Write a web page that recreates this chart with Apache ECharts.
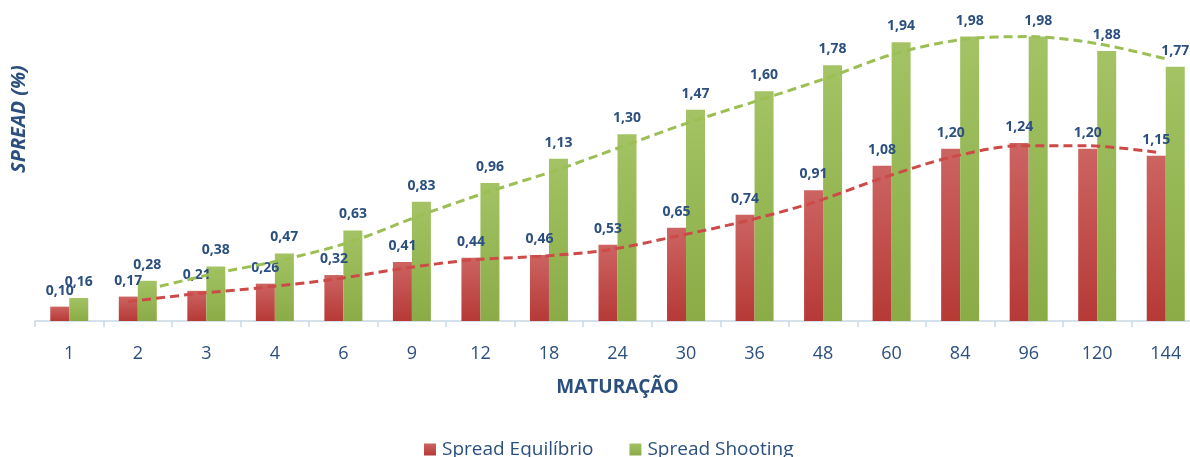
<!DOCTYPE html>
<html>
<head>
<meta charset="utf-8">
<script src="https://cdn.jsdelivr.net/npm/echarts@6/dist/echarts.min.js"></script>
<style>
  html, body { margin: 0; padding: 0; background: #ffffff; overflow: hidden; }
  /* the chart is slightly wider than the page: the last category runs off the right edge */
  #chart { width: 1200px; height: 457px; }
</style>
</head>
<body>
<div id="chart"></div>
<script>
// Maturities (months)
const maturities = ['1', '2', '3', '4', '6', '9', '12', '18', '24', '30', '36', '48', '60', '84', '96', '120', '144'];

// Spread values (%)
const spreadEquilibrio = [0.10, 0.17, 0.21, 0.26, 0.32, 0.41, 0.44, 0.46, 0.53, 0.65, 0.74, 0.91, 1.08, 1.20, 1.24, 1.20, 1.15];
const spreadShooting   = [0.16, 0.28, 0.38, 0.47, 0.63, 0.83, 0.96, 1.13, 1.30, 1.47, 1.60, 1.78, 1.94, 1.98, 1.98, 1.88, 1.77];

// Dashed trend lines (2-period moving average)
const trendEquilibrio = [null, 0.135, 0.19, 0.235, 0.29, 0.365, 0.425, 0.45, 0.495, 0.59, 0.695, 0.825, 0.995, 1.14, 1.22, 1.22, 1.175];
const trendShooting   = [null, 0.22, 0.33, 0.425, 0.55, 0.73, 0.895, 1.045, 1.215, 1.385, 1.535, 1.69, 1.86, 1.96, 1.98, 1.93, 1.825];

const seriesNames = ['Spread Equilíbrio', 'Spread Shooting'];

const TEXT = '#2b4f7e';
const AXIS = '#c8d6e8';
const FONT = '"Open Sans", "Liberation Sans", sans-serif';
const Y_MAX = 2.2;

const fmt = p => p.value.toFixed(2).replace('.', ',');

const grad = (top, bottom) => new echarts.graphic.LinearGradient(0, 0, 0, 1, [
  { offset: 0, color: top },
  { offset: 1, color: bottom }
]);

const plot = { top: 5, bottom: 136 };
const PLOT_LEFT = 35;
const PLOT_RIGHT = 0;
const BAR_W = 19;

const chart = echarts.init(document.getElementById('chart'), null, { renderer: 'canvas' });

const hiddenX = idx => ({
  type: 'category', gridIndex: idx, data: maturities, show: false, boundaryGap: true
});
const hiddenY = idx => ({
  type: 'value', gridIndex: idx, min: 0, max: Y_MAX, show: false, splitLine: { show: false }
});

chart.setOption({
  animation: false,
  backgroundColor: '#ffffff',
  textStyle: { fontFamily: FONT },
  grid: [
    // bars
    { left: PLOT_LEFT, right: PLOT_RIGHT, top: plot.top, bottom: plot.bottom },
    // trend line through the red bars' centres
    { left: PLOT_LEFT - BAR_W / 2, right: PLOT_RIGHT + BAR_W / 2, top: plot.top, bottom: plot.bottom },
    // trend line through the green bars' centres
    { left: PLOT_LEFT + BAR_W / 2, right: PLOT_RIGHT - BAR_W / 2, top: plot.top, bottom: plot.bottom }
  ],
  legend: {
    data: seriesNames,
    left: 419,
    top: 435,
    itemWidth: 12,
    itemHeight: 12,
    itemGap: 36,
    icon: 'rect',
    textStyle: { color: TEXT, fontSize: 19, fontFamily: FONT, padding: [0, 0, 0, 1] }
  },
  xAxis: [
    {
      type: 'category',
      gridIndex: 0,
      data: maturities,
      boundaryGap: true,
      axisLine: { show: true, lineStyle: { color: AXIS, width: 1.5 } },
      axisTick: { show: true, length: 6, lineStyle: { color: AXIS, width: 1.5 } },
      axisLabel: { color: TEXT, fontSize: 18, margin: 24, fontFamily: FONT },
      name: 'MATURAÇÃO',
      nameLocation: 'middle',
      nameGap: 57,
      nameTextStyle: { color: TEXT, fontSize: 19, fontWeight: 'bold', fontFamily: FONT }
    },
    hiddenX(1),
    hiddenX(2)
  ],
  yAxis: [
    {
      type: 'value',
      gridIndex: 0,
      min: 0,
      max: Y_MAX,
      axisLine: { show: false },
      axisTick: { show: false },
      axisLabel: { show: false },
      splitLine: { show: false },
      name: 'SPREAD (%)',
      nameLocation: 'middle',
      nameRotate: 90,
      nameGap: 6,
      nameTextStyle: {
        color: TEXT, fontSize: 20, fontWeight: 'bold', fontStyle: 'italic',
        fontFamily: FONT, padding: [0, 0, 0, 88]
      }
    },
    hiddenY(1),
    hiddenY(2)
  ],
  series: [
    {
      name: seriesNames[0],
      type: 'bar',
      xAxisIndex: 0,
      yAxisIndex: 0,
      data: spreadEquilibrio,
      barWidth: BAR_W,
      barGap: '0%',
      itemStyle: { color: grad('#cc6462', '#b63936') },
      label: {
        show: true, position: 'top', distance: 9, formatter: fmt,
        color: TEXT, fontSize: 14, fontWeight: 'bold', fontFamily: FONT
      },
      z: 2
    },
    {
      name: seriesNames[1],
      type: 'bar',
      xAxisIndex: 0,
      yAxisIndex: 0,
      data: spreadShooting,
      barWidth: BAR_W,
      barGap: '0%',
      itemStyle: { color: grad('#a3c364', '#8aab46') },
      label: {
        show: true, position: 'top', distance: 9, formatter: fmt,
        color: TEXT, fontSize: 14, fontWeight: 'bold', fontFamily: FONT
      },
      z: 2
    },
    {
      name: 'trendEquilibrio',
      type: 'line',
      xAxisIndex: 1,
      yAxisIndex: 1,
      data: trendEquilibrio,
      smooth: 0.3,
      symbol: 'none',
      connectNulls: false,
      lineStyle: { color: '#cc4a47', width: 3, type: [9, 5] },
      legendHoverLink: false,
      z: 3
    },
    {
      name: 'trendShooting',
      type: 'line',
      xAxisIndex: 2,
      yAxisIndex: 2,
      data: trendShooting,
      smooth: 0.3,
      symbol: 'none',
      connectNulls: false,
      lineStyle: { color: '#9bbf55', width: 3, type: [9, 5] },
      legendHoverLink: false,
      z: 3
    }
  ]
});
</script>
</body>
</html>
